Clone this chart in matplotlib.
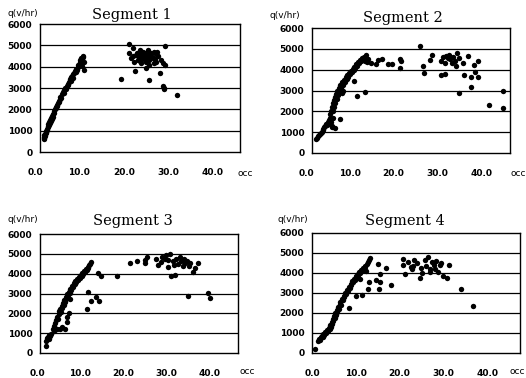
import numpy as np
import matplotlib
matplotlib.use("Agg")
import matplotlib.pyplot as plt
from matplotlib.transforms import ScaledTranslation

W, H = 526, 378

# --- data (occ in %, q in v/hr) ---
seg1_occ = [0.8, 0.9, 1.0, 1.0, 1.1, 1.2, 1.3, 1.3, 1.4, 1.5, 1.6, 1.7, 1.8, 1.9, 2.0, 2.1, 2.2, 2.3,
            2.4, 2.5, 2.6, 2.7, 2.9, 3.0, 3.1, 3.2, 3.4, 3.5, 3.6, 3.8, 3.9, 4.0, 4.2, 4.3, 4.5, 4.6,
            4.8, 5.0, 5.1, 5.3, 5.5, 5.6, 5.8, 6.0, 6.2, 6.4, 6.5, 6.7, 6.9, 7.0, 7.2, 7.4, 7.5, 7.7,
            7.9, 8.0, 8.2, 8.3, 8.5, 8.6, 8.8, 8.9, 9.0, 9.1, 9.2, 9.3, 9.5, 9.6, 9.7, 9.8, 10.0, 9.4,
            20.1, 20.0, 20.5, 20.9, 21.3, 21.6, 22.0, 22.4, 22.4, 22.8, 23.1, 23.1, 23.5, 23.9, 23.9,
            24.3, 24.3, 24.6, 24.6, 25.0, 25.4, 25.7, 25.7, 26.1, 26.5, 26.9, 27.2, 27.6, 28.1, 28.1,
            27.6, 28.0, 27.8, 30.8, 18.3, 26.3, 21.0, 21.8, 22.2, 22.7, 23.3, 23.8, 24.0, 24.8, 25.2,
            26.0, 23.6, 22.5, 21.2, 24.5, 25.8]
seg1_q = [620, 700, 780, 650, 850, 760, 900, 1000, 950, 1100, 1050, 1200, 1150, 1300, 1250, 1400, 1350, 1500,
          1450, 1600, 1550, 1700, 1650, 1800, 1900, 1850, 2000, 2100, 2050, 2200, 2150, 2300, 2400, 2350, 2500, 2600,
          2550, 2700, 2800, 2750, 2900, 3000, 2950, 3100, 3200, 3150, 3300, 3400, 3350, 3500, 3550, 3450, 3650, 3700,
          3800, 3750, 3900, 3850, 4000, 4100, 4050, 4200, 4150, 4300, 4250, 4400, 4350, 4500, 4450, 4200, 3850, 4050,
          5050, 4630, 4400, 4870, 3800, 4550, 4320, 4790, 4480, 4160, 4710, 4400, 4550, 4240, 3920,
          4790, 4480, 4320, 3380, 4630, 4400, 4710, 4160, 4240, 4480, 3720, 4320, 4160, 4980, 4080,
          3090, 2940, 3020, 2670, 3400, 4700, 4500, 4650, 4400, 4600, 4500, 4650, 4400, 4550, 4450,
          4600, 4300, 4250, 4200, 4100, 4350]

seg2_occ = [1.0, 1.2, 1.4, 1.6, 1.8, 2.0, 2.2, 2.4, 2.6, 2.8, 3.0, 3.2, 3.4, 3.6, 3.8, 4.0, 4.0, 4.2, 4.3,
            4.4, 4.5, 4.6, 4.7, 4.8, 4.9, 5.0, 5.1, 5.2, 5.3, 5.5, 5.6, 5.8, 6.0, 6.2, 6.4, 6.5, 6.7, 6.9,
            7.1, 7.3, 7.5, 7.7, 7.9, 8.1, 8.3, 8.5, 8.7, 8.9, 9.1, 9.3, 9.5, 9.7, 9.9, 10.1, 10.3, 10.5,
            10.7, 10.9, 11.1, 11.3, 11.5, 11.8, 12.0, 12.3, 12.5, 12.8, 6.4, 9.7, 10.3, 12.0, 5.2, 4.6,
            6.8, 7.0,
            13.5, 14.7, 15.0, 16.0, 17.3, 18.3, 20.0, 20.3, 20.2, 24.6, 25.4, 25.6, 26.9, 27.3, 29.4,
            30.3, 29.4, 30.3, 30.7, 31.0, 31.5, 31.9, 32.2, 32.7, 33.0, 33.5, 32.9, 33.5, 34.5, 34.7,
            35.7, 36.2, 36.4, 37.0, 37.2, 37.8, 38.0, 40.4, 43.7, 43.7, 31.2, 30.0]
seg2_q = [650, 720, 800, 850, 900, 950, 1000, 1100, 1150, 1250, 1300, 1400, 1350, 1500, 1600, 1400, 1700, 1850, 1500,
          2000, 1250, 2200, 1700, 2400, 2000, 2550, 2200, 2700, 2400, 2850, 2600, 3000, 2800, 3100, 2950, 3250, 3100, 3400,
          3250, 3500, 3400, 3650, 3550, 3750, 3650, 3850, 3800, 3950, 3900, 4050, 4000, 4150, 4100, 4250, 4200, 4350,
          4300, 4450, 4400, 4550, 4450, 4600, 4400, 4700, 4350, 4500, 1630, 3440, 2720, 2910, 1200, 1300,
          2900, 3000,
          4300, 4270, 4450, 4530, 4270, 4270, 4510, 4400, 4080, 5150, 4160, 3840, 4480, 4690, 3730,
          3790, 4400, 4320, 4640, 4550, 4530, 4320, 4600, 4400, 4800, 4560, 4160, 2880, 4320, 3760,
          4640, 3630, 3150, 4240, 3870, 4400, 3630, 2320, 2960, 2160, 4700, 4600]

seg3_occ = [1.4, 1.5, 1.6, 1.8, 2.0, 2.1, 2.3, 2.5, 3.0, 3.2, 3.4, 3.6, 3.8, 4.0, 4.2, 4.4, 4.5, 4.6, 4.7,
            4.9, 5.0, 5.2, 5.3, 5.5, 5.6, 5.8, 5.8, 6.0, 6.1, 6.2, 6.2, 6.3, 6.5, 6.7, 6.9, 7.0, 7.2, 7.4,
            7.6, 7.8, 8.0, 8.2, 8.4, 8.6, 8.8, 9.0, 9.2, 9.4, 9.6, 9.8, 10.0, 10.2, 10.4, 10.6, 10.8, 11.0,
            11.2, 11.4, 11.6, 11.8, 5.0, 4.0, 6.6, 7.0, 3.3,
            10.9, 11.7, 11.2, 12.9, 13.6, 13.5, 14.2, 17.7, 20.8, 22.5, 24.2, 24.4, 24.8, 26.9, 27.3,
            28.0, 28.8, 29.2, 29.6, 30.0, 30.4, 31.2, 30.8, 31.5, 32.0, 32.3, 32.6, 33.0, 33.3, 33.6,
            34.0, 34.4, 34.8, 35.4, 35.8, 36.5, 34.2, 38.8, 39.4, 28.2, 29.7, 31.0]
seg3_q = [340, 620, 750, 820, 700, 900, 870, 950, 1200, 1380, 1500, 1200, 1650, 1800, 1720, 1950, 2100, 1200, 2200,
          2050, 2350, 2250, 2500, 2400, 2650, 2550, 1200, 2800, 2700, 1550, 1800, 2950, 2900, 3100, 3050, 3250, 3200, 3400,
          3350, 3550, 3500, 3650, 3600, 3750, 3700, 3850, 3800, 3950, 3900, 4050, 4000, 4150, 4100, 4250, 4200, 4350,
          4300, 4450, 4500, 4600, 1300, 1200, 2000, 2700, 1100,
          2240, 2630, 3060, 2800, 2600, 4030, 3860, 3900, 4520, 4620, 4710, 4560, 4850, 4760, 4460,
          4600, 4760, 4930, 4340, 5010, 3870, 3950, 4650, 4750, 4500, 4850, 4650, 4400, 4750, 4550,
          4650, 4400, 4550, 4070, 4300, 4540, 2860, 3030, 2760, 4850, 4700, 4450]

seg4_occ = [0.7, 1.4, 1.6, 1.8, 2.0, 2.2, 2.4, 2.6, 2.8, 3.0, 3.2, 3.4, 3.6, 3.8, 4.0, 4.2, 4.3, 4.5, 4.6,
            4.8, 4.9, 5.0, 5.2, 5.3, 5.5, 5.6, 5.8, 5.9, 6.1, 6.3, 6.5, 6.6, 6.8, 7.0, 7.2, 7.4, 7.6, 7.8,
            8.0, 8.2, 8.4, 8.6, 8.8, 9.0, 9.2, 9.4, 9.6, 9.8, 10.0, 10.2, 10.4, 10.6, 10.8, 11.0, 11.2,
            11.4, 11.6, 11.8, 12.0, 12.2, 12.5, 12.7, 13.0, 13.3, 12.4, 11.0,
            8.5, 10.0, 11.4, 12.7, 13.0, 14.6, 15.4, 15.6, 15.6, 15.0, 16.9, 18.1, 20.8, 20.8, 21.2,
            22.0, 22.7, 22.9, 23.4, 24.6, 25.2, 25.7, 26.5, 26.9, 27.3, 27.8, 28.4, 28.8, 29.2, 29.9,
            30.9, 31.3, 34.0, 36.7, 24.0, 26.0, 27.0, 28.0, 29.5, 25.0, 23.0]
seg4_q = [220, 600, 700, 650, 780, 850, 820, 950, 900, 1050, 1000, 1150, 1100, 1250, 1200, 1400, 1300, 1550, 1450,
          1700, 1600, 1850, 1750, 2000, 1900, 2150, 2050, 2300, 2200, 2450, 2550, 2400, 2700, 2650, 2850, 2800, 3000, 2950,
          3150, 3100, 3300, 3250, 3450, 3400, 3600, 3550, 3700, 3650, 3850, 3750, 3950, 3900, 4050, 4000, 4150,
          4100, 4250, 4200, 4350, 4300, 4450, 4550, 4650, 4750, 4100, 3700,
          2250, 2850, 2920, 3220, 3550, 3630, 3220, 3550, 3970, 4470, 4270, 3420, 4720, 4420, 3970,
          4550, 4300, 4180, 4630, 3750, 4000, 4630, 4800, 4220, 4550, 4400, 4580, 4050, 4380, 3850,
          3750, 4420, 3220, 2330, 4500, 4350, 4050, 4200, 4500, 4250, 4350]

titles = ["Segment 1", "Segment 2", "Segment 3", "Segment 4"]
y_ticks = [0, 1000, 2000, 3000, 4000, 5000, 6000]
x_ticks = [0, 10, 20, 30, 40]
x_labels = ["0.0", "10.0", "20.0", "30.0", "40.0"]

fig = plt.figure(figsize=(W / 100, H / 100), dpi=100)


def px_axes(left, top, right, bottom):
    return fig.add_axes([left / W, 1 - bottom / H, (right - left) / W, (bottom - top) / H])


def draw_panel(ax, occ, q, xmax, dx):
    ax.scatter(occ, q, s=15, color="black", linewidths=0, zorder=3)
    ax.set_xlim(0, xmax)
    ax.set_ylim(0, 6000)
    ax.set_yticks(y_ticks)
    ax.set_yticklabels([str(v) for v in y_ticks])
    ax.set_xticks(x_ticks)
    ax.set_xticklabels(x_labels)
    for v in y_ticks[1:-1]:
        ax.axhline(v, color="black", lw=0.9, zorder=1)
    for sp in ax.spines.values():
        sp.set_color("black")
        sp.set_linewidth(1.0)
    ax.tick_params(length=0, labelsize=6.5)
    ax.tick_params(axis="x", pad=11.5)
    ax.tick_params(axis="y", pad=5.5)
    for lab in ax.get_xticklabels() + ax.get_yticklabels():
        lab.set_fontweight("bold")
    for lab in ax.get_xticklabels():
        lab.set_transform(lab.get_transform() + ScaledTranslation(dx / 100, 0, fig.dpi_scale_trans))


# panel boxes in pixels: left, top, right, bottom
boxes = [(40, 24, 240, 152), (312, 28, 510, 153), (40, 234, 238, 353), (312, 233, 520, 353)]
xmaxes = [45.0, 45.2, 45.8, 47.5]
shifts = [-5, -6, -3, 0]
datasets = [(seg1_occ, seg1_q), (seg2_occ, seg2_q), (seg3_occ, seg3_q), (seg4_occ, seg4_q)]
title_pos = [(132, 15), (403, 18), (133, 221), (405, 221)]
qlab_pos = [(7, 13), (270, 15), (8, 220), (278, 219)]
occ_pos = [(245, 174), (518, 173), (247, 371), (517, 372)]

for i in range(4):
    ax = px_axes(*boxes[i])
    draw_panel(ax, datasets[i][0], datasets[i][1], xmaxes[i], shifts[i])
    tx, ty = title_pos[i]
    fig.text(tx / W, 1 - ty / H, titles[i], ha="center", va="center",
             family="DejaVu Serif", fontsize=10.5)
    qx, qy = qlab_pos[i]
    fig.text(qx / W, 1 - qy / H, "q(v/hr)", ha="left", va="center", fontsize=6.5)
    ox, oy = occ_pos[i]
    fig.text(ox / W, 1 - oy / H, "occ", ha="center", va="center", fontsize=6.5)

fig.savefig("out.png", dpi=100)
